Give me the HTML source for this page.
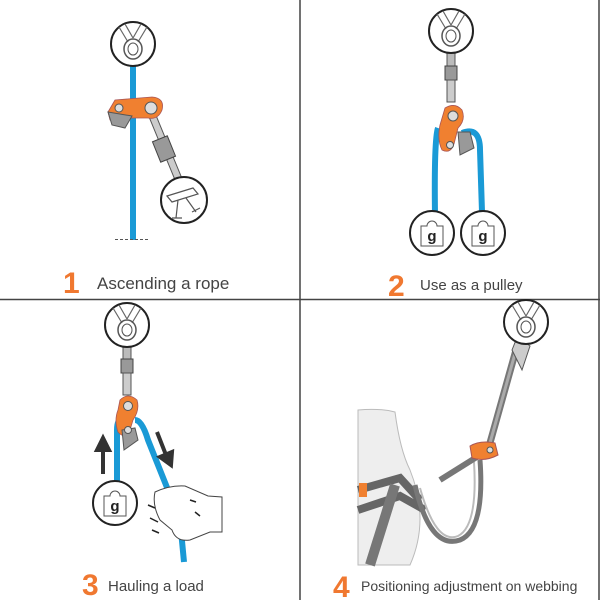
<!DOCTYPE html>
<html><head><meta charset="utf-8"><style>
html,body{margin:0;padding:0;background:#fff}
svg{display:block}
text{font-family:"Liberation Sans",sans-serif}
</style></head><body>
<svg width="600" height="600" viewBox="0 0 600 600" xmlns="http://www.w3.org/2000/svg">
<defs>
<g id="anc">
 <circle r="22" fill="#fff" stroke="#222" stroke-width="2"/>
 <path d="M-14,-17 L-5,-2 M-8,-20 L0,-6 M14,-17 L5,-2 M8,-20 L0,-6" stroke="#666" stroke-width="1.2" fill="none"/>
 <ellipse cx="0" cy="5" rx="9" ry="10" fill="none" stroke="#555" stroke-width="1.5"/>
 <ellipse cx="0" cy="5" rx="5" ry="6" fill="none" stroke="#555" stroke-width="1"/>
</g>
<g id="wt">
 <circle r="22" fill="#fff" stroke="#222" stroke-width="2"/>
 <path d="M-11,-7 L-5,-7 A5,5 0 1 1 5,-7 L11,-7 L11,13 L-11,13 Z" fill="#fff" stroke="#555" stroke-width="1"/>
 <text x="0" y="8" font-size="15" font-weight="bold" text-anchor="middle" fill="#222">g</text>
</g>
<g id="swv">
 <rect x="-4" y="0" width="8" height="14" fill="#bbb" stroke="#555"/>
 <rect x="-6" y="14" width="12" height="14" fill="#999" stroke="#444"/>
 <rect x="-4" y="28" width="8" height="22" fill="#ccc" stroke="#555"/>
</g>
</defs>

<line x1="300" y1="0" x2="300" y2="600" stroke="#444" stroke-width="1.5"/>
<line x1="0" y1="299.5" x2="600" y2="299.5" stroke="#444" stroke-width="1.5"/>
<line x1="599" y1="0" x2="599" y2="600" stroke="#444" stroke-width="1.5"/>

<!-- Q1 -->
<line x1="133" y1="66" x2="133" y2="240" stroke="#1a9ad6" stroke-width="6"/>
<line x1="115" y1="239.5" x2="150" y2="239.5" stroke="#555" stroke-dasharray="3,2"/>
<use href="#anc" x="133" y="44"/>
<line x1="150" y1="110" x2="178" y2="178" stroke="#555" stroke-width="8" stroke-linecap="round"/>
<line x1="150" y1="110" x2="178" y2="178" stroke="#ccc" stroke-width="6" stroke-linecap="round"/>
<rect x="156" y="138" width="16" height="22" fill="#999" stroke="#444" transform="rotate(-22 164 149)"/>
<path d="M108,112 L115,100 L152,97 Q165,98 162,110 Q158,120 148,118 L130,118 L110,120 Z" fill="#f08030" stroke="#a55" stroke-width="0.8"/>
<path d="M108,112 L112,125 L125,128 L132,116 Z" fill="#999" stroke="#555"/>
<circle cx="119" cy="108" r="4" fill="#ddd" stroke="#555"/>
<circle cx="151" cy="108" r="6" fill="#ddd" stroke="#555"/>
<circle cx="184" cy="200" r="23" fill="#fff" stroke="#222" stroke-width="2"/>
<path d="M167,196 L193,188 L198,194 L172,202 Z M178,200 L176,218 M186,198 L196,212 M172,218 L182,218 M192,212 L200,208" stroke="#555" fill="none" stroke-width="1.2"/>
<text x="63" y="293" font-size="30" font-weight="bold" fill="#f07830">1</text>
<text x="97" y="289" font-size="17" fill="#444">Ascending a rope</text>

<!-- Q2 -->
<use href="#swv" x="451" y="52"/>
<use href="#anc" x="451" y="31"/>
<path d="M438,128 Q434,140 435,215" stroke="#1a9ad6" stroke-width="6" fill="none"/>
<path d="M462,133 Q480,126 480,150 L482,212" stroke="#1a9ad6" stroke-width="6" fill="none"/>
<path d="M445,108 Q455,102 462,110 Q466,120 458,128 L455,140 Q452,155 442,150 Q437,140 440,125 Z" fill="#f08030" stroke="#a55" stroke-width="0.8"/>
<path d="M458,132 L470,132 L474,148 L460,155 Z" fill="#999" stroke="#555"/>
<circle cx="453" cy="116" r="5" fill="#ddd" stroke="#555"/>
<circle cx="450" cy="145" r="3.5" fill="#ddd" stroke="#555"/>
<use href="#wt" x="432" y="233"/>
<use href="#wt" x="483" y="233"/>
<text x="388" y="296" font-size="30" font-weight="bold" fill="#f07830">2</text>
<text x="420" y="290" font-size="15" fill="#444">Use as a pulley</text>

<!-- Q3 -->
<use href="#swv" x="127" y="345"/>
<use href="#anc" x="127" y="325"/>
<path d="M117,483 L117,430 Q117,420 122,418" stroke="#1a9ad6" stroke-width="6" fill="none"/>
<path d="M135,420 Q142,420 148,440 L180,520 L184,562" stroke="#1a9ad6" stroke-width="6" fill="none"/>
<path d="M120,400 Q128,392 137,400 Q140,410 133,420 L130,430 Q125,440 118,432 Q114,420 118,410 Z" fill="#f08030" stroke="#a55" stroke-width="0.8"/>
<path d="M122,430 L135,428 L138,440 L124,450 Z" fill="#999" stroke="#555"/>
<circle cx="128" cy="406" r="4.5" fill="#ddd" stroke="#555"/>
<circle cx="128" cy="430" r="3.5" fill="#ddd" stroke="#555"/>
<path d="M103,474 L103,448 M97,450 L103,438 L109,450 Z" stroke="#333" stroke-width="4" fill="#333"/>
<path d="M157,432 L166,455 M160,457 L171,465 L172,452 Z" stroke="#333" stroke-width="4" fill="#333"/>
<use href="#wt" x="115" y="503"/>
<path d="M155,492 Q170,485 185,486 L208,496 L222,497 L222,532 L210,532 L190,540 Q176,542 172,530 L160,520 Q152,505 155,492 Z" fill="#fff" stroke="#444" stroke-width="1"/>
<path d="M190,500 L196,502 M195,512 L200,516 M150,518 L158,522 M152,530 L159,533 M148,505 L155,508" stroke="#222" stroke-width="1.5"/>
<text x="82" y="595" font-size="30" font-weight="bold" fill="#f07830">3</text>
<text x="108" y="591" font-size="15" fill="#444">Hauling a load</text>

<!-- Q4 -->
<path d="M358,410 Q380,408 395,412 Q400,450 410,470 Q430,520 410,565 L358,565 Z" fill="#eee" stroke="#bbb"/>
<path d="M358,490 L400,478 L420,500 M358,510 L400,496 L425,510" stroke="#666" stroke-width="8" fill="none"/>
<path d="M395,485 L370,565" stroke="#777" stroke-width="10"/>
<rect x="359" y="483" width="8" height="14" fill="#f08030"/>
<path d="M415,485 Q430,550 460,540 Q485,530 480,460" stroke="#777" stroke-width="5" fill="none"/>
<path d="M420,488 Q436,545 458,536 Q478,526 474,462" stroke="#bbb" stroke-width="2" fill="none"/>
<line x1="488" y1="450" x2="516" y2="350" stroke="#777" stroke-width="7"/>
<line x1="488" y1="450" x2="516" y2="350" stroke="#aaa" stroke-width="3"/>
<path d="M512,350 L516,340 L520,338 L530,346 L522,370 Z" fill="#ccc" stroke="#555"/>
<line x1="440" y1="480" x2="480" y2="455" stroke="#777" stroke-width="6"/>
<path d="M470,446 Q480,440 495,443 L498,455 Q485,462 472,458 Z" fill="#f08030" stroke="#a55"/>
<circle cx="490" cy="450" r="3" fill="#ddd" stroke="#555"/>
<use href="#anc" x="526" y="322"/>
<text x="333" y="597" font-size="30" font-weight="bold" fill="#f07830">4</text>
<text x="361" y="591" font-size="14" fill="#444">Positioning adjustment on webbing</text>
</svg>
</body></html>
